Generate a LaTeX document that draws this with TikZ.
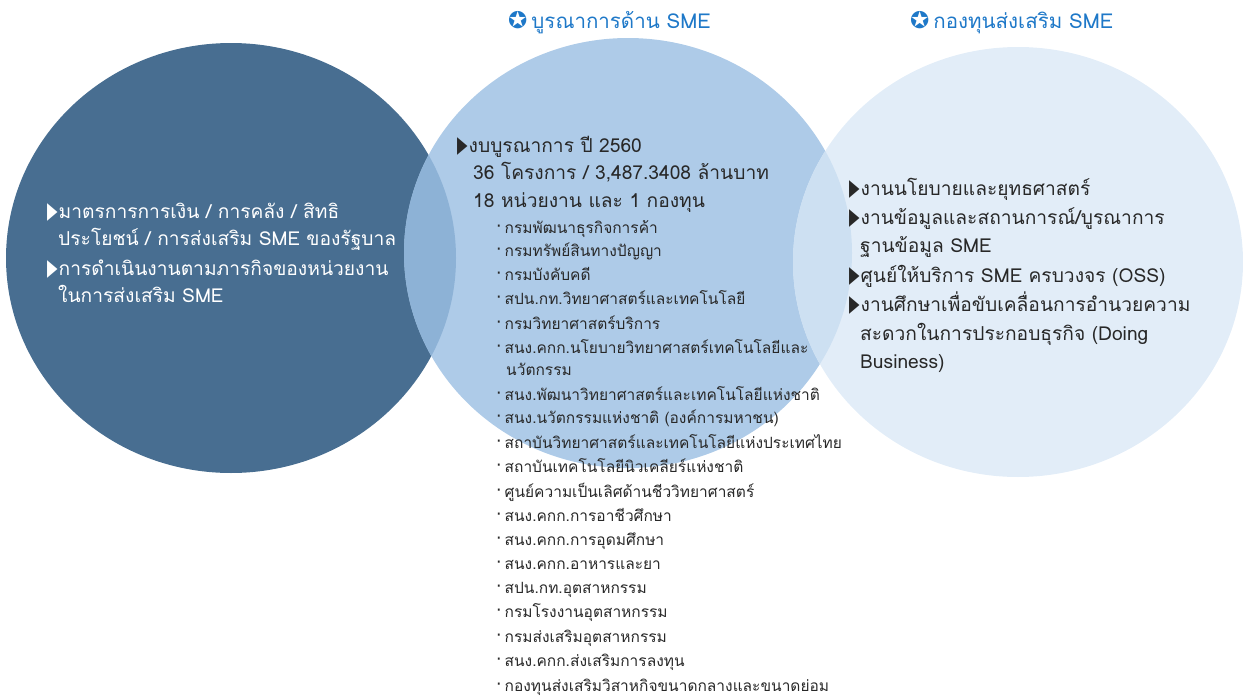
\documentclass[tikz,border=0pt]{standalone}
\usepackage{fontspec}
\setmainfont[Script=Thai]{Loma}
\newfontfamily\symfont{DejaVu Sans}
\definecolor{leftc}{RGB}{72,110,145}
\definecolor{midc}{RGB}{174,203,232}
\definecolor{rightc}{RGB}{226,237,248}
\definecolor{lmc}{RGB}{141,178,214}
\definecolor{mrc}{RGB}{205,224,242}
\definecolor{textc}{RGB}{40,40,40}
\definecolor{headc}{RGB}{30,120,200}
\newcommand{\tri}{\scalebox{0.62}[1.05]{\symfont\fontsize{22}{22}\selectfont ▶}\hspace{1pt}}

\begin{document}
\begin{tikzpicture}[x=1pt, y=-1pt,
    every node/.style={inner sep=0pt, anchor=base west},
    big/.style={font=\fontsize{19.2}{19.2}\selectfont, text=textc},
    small/.style={font=\fontsize{15.5}{15.5}\selectfont, text=textc},
    head/.style={font=\fontsize{20.5}{20.5}\selectfont, text=headc}]
    \useasboundingbox (0,0) rectangle (1243,696);

    % circles
    \fill[leftc] (231,258) ellipse [x radius=225, y radius=215];
    \fill[midc] (628,253) ellipse [x radius=224, y radius=215];
    \fill[rightc] (1018,262) ellipse [x radius=225, y radius=215];
    \begin{scope}
        \clip (628,253) ellipse [x radius=224, y radius=215];
        \fill[lmc] (231,258) ellipse [x radius=225, y radius=215];
        \fill[mrc] (1018,262) ellipse [x radius=225, y radius=215];
    \end{scope}

    % headings
    \node[head] (h1) at (508,28) {{\symfont\fontsize{23}{23}\selectfont ✪}\hspace{4pt}บูรณาการด้าน SME};
    \node[head] (h2) at (910,28) {{\symfont\fontsize{23}{23}\selectfont ✪}\hspace{4pt}กองทุนส่งเสริม SME};

    % left
    \node[big, text=white] (l1) at (47,218) {\tri มาตรการการเงิน / การคลัง / สิทธิ};
    \node[big, text=white] (l1b) at (58,245) {ประโยชน์ / การส่งเสริม SME ของรัฐบาล};
    \node[big, text=white] (l2) at (47,275) {\tri การดำเนินงานตามภารกิจของหน่วยงาน};
    \node[big, text=white] (l2b) at (58,302) {ในการส่งเสริม SME};

    % middle
    \node[big] (m1) at (457,152) {\tri งบบูรณาการ ปี 2560};
    \node[big] (m2) at (473,179) {36 โครงการ / 3,487.3408 ล้านบาท};
    \node[big] (m3) at (473,207) {18 หน่วยงาน และ 1 กองทุน};
    \foreach \y/\t [count=\i] in {
        233/กรมพัฒนาธุรกิจการค้า,
        256/กรมทรัพย์สินทางปัญญา,
        280/กรมบังคับคดี,
        304/สปน.กท.วิทยาศาสตร์และเทคโนโลยี,
        329/กรมวิทยาศาสตร์บริการ,
        353/สนง.คกก.นโยบายวิทยาศาสตร์เทคโนโลยีและ,
        400/สนง.พัฒนาวิทยาศาสตร์และเทคโนโลยีแห่งชาติ,
        423/สนง.นวัตกรรมแห่งชาติ (องค์การมหาชน),
        448/สถาบันวิทยาศาสตร์และเทคโนโลยีแห่งประเทศไทย,
        472/สถาบันเทคโนโลยีนิวเคลียร์แห่งชาติ,
        497/ศูนย์ความเป็นเลิศด้านชีววิทยาศาสตร์,
        521/สนง.คกก.การอาชีวศึกษา,
        545/สนง.คกก.การอุดมศึกษา,
        569/สนง.คกก.อาหารและยา,
        593/สปน.กท.อุตสาหกรรม,
        617/กรมโรงงานอุตสาหกรรม,
        642/กรมส่งเสริมอุตสาหกรรม,
        666/สนง.คกก.ส่งเสริมการลงทุน,
        691/กองทุนส่งเสริมวิสาหกิจขนาดกลางและขนาดย่อม}
        \node[small] (a\i) at (496,\y) {·\hspace{3pt}\t};
    \node[small] (a6b) at (506,375) {นวัตกรรม};

    % right
    \node[big] (r1) at (849,195) {\tri งานนโยบายและยุทธศาสตร์};
    \node[big] (r2) at (849,224) {\tri งานข้อมูลและสถานการณ์/บูรณาการ};
    \node[big] (r2b) at (860,252) {ฐานข้อมูล SME};
    \node[big] (r3) at (849,282) {\tri ศูนย์ให้บริการ SME ครบวงจร (OSS)};
    \node[big] (r4) at (849,311) {\tri งานศึกษาเพื่อขับเคลื่อนการอำนวยความ};
    \node[big] (r4b) at (860,340) {สะดวกในการประกอบธุรกิจ (Doing};
    \node[big] (r4c) at (860,368) {Business)};
\end{tikzpicture}
\end{document}
